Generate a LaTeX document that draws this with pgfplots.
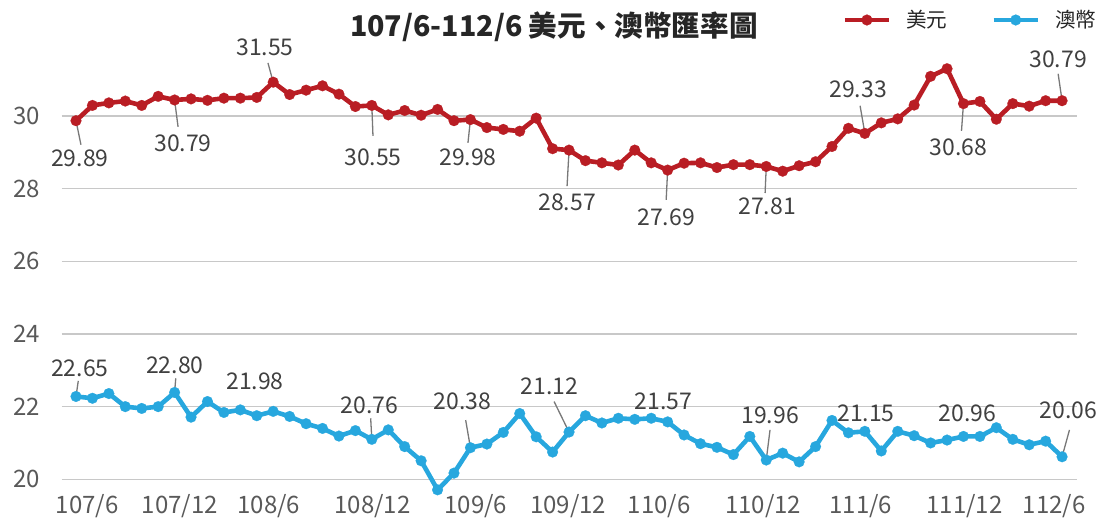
\documentclass[border=0pt]{standalone}
\usepackage{fontspec}
\setmainfont{Noto Sans CJK TC}
\usepackage{pgfplots}
\usepackage{pgfplotstable}
\pgfplotsset{compat=1.18}
\definecolor{usd}{RGB}{185,29,36}
\definecolor{aud}{RGB}{39,167,222}
\definecolor{gridc}{RGB}{200,200,200}
\definecolor{lbl}{RGB}{64,64,64}
\definecolor{tck}{RGB}{89,89,89}
\definecolor{lead}{RGB}{120,120,120}
\newcommand{\lf}{\fontsize{11.5}{13}\selectfont}

\pgfplotstableread{
x usd aud
0 29.87 22.28
1 30.29 22.23
2 30.36 22.36
3 30.41 22.00
4 30.29 21.95
5 30.54 22.00
6 30.44 22.39
7 30.47 21.71
8 30.43 22.14
9 30.49 21.84
10 30.49 21.91
11 30.51 21.75
12 30.93 21.87
13 30.59 21.73
14 30.71 21.53
15 30.83 21.40
16 30.60 21.19
17 30.26 21.34
18 30.29 21.10
19 30.03 21.36
20 30.15 20.90
21 30.02 20.51
22 30.18 19.71
23 29.87 20.17
24 29.90 20.87
25 29.68 20.97
26 29.63 21.29
27 29.58 21.81
28 29.94 21.17
29 29.10 20.75
30 29.06 21.30
31 28.77 21.75
32 28.71 21.55
33 28.65 21.68
34 29.06 21.65
35 28.71 21.68
36 28.51 21.58
37 28.70 21.22
38 28.71 20.98
39 28.58 20.88
40 28.66 20.68
41 28.66 21.18
42 28.61 20.53
43 28.48 20.72
44 28.63 20.48
45 28.74 20.90
46 29.16 21.62
47 29.66 21.28
48 29.52 21.32
49 29.81 20.78
50 29.92 21.32
51 30.30 21.20
52 31.09 21.00
53 31.30 21.08
54 30.34 21.18
55 30.40 21.18
56 29.91 21.42
57 30.34 21.10
58 30.27 20.95
59 30.42 21.05
60 30.42 20.62
}\data

\begin{document}
\begin{tikzpicture}
\path[use as bounding box] (-30.85pt,-19.85pt) rectangle (523.65pt,239.65pt);
\begin{axis}[
  at={(0pt,0pt)}, anchor=south west,
  scale only axis, width=507.5pt, height=218pt,
  xmin=-0.87, xmax=60.89, ymin=20, ymax=32,
  clip=false,
  axis line style={draw=none},
  tick style={draw=none},
  major tick length=0pt,
  ymajorgrids, grid style={gridc, line width=0.7pt},
  ytick={20,22,24,26,28,30},
  xtick={0.69,6.31,11.74,18.04,24.33,29.94,35.48,41.81,47.76,54.07,59.51},
  xticklabels={107/6,107/12,108/6,108/12,109/6,109/12,110/6,110/12,111/6,111/12,112/6},
  /pgf/number format/assume math mode=true,
  yticklabel style={anchor=east, inner sep=0pt, xshift=-10.8pt, text=tck, font=\fontsize{12}{14}\selectfont},
  xticklabel style={anchor=north, inner sep=0pt, yshift=-7.5pt, text=tck, font=\fontsize{12}{14}\selectfont},
  legend columns=2,
  legend style={at={(0.769,1.0534)}, anchor=west, draw=none, fill=none, inner sep=0pt,
    nodes={inner sep=0pt, font=\fontsize{10.3}{12}\selectfont, text=black!85},
    /tikz/every odd column/.append style={column sep=7.5pt},
    /tikz/every even column/.append style={column sep=22pt}},
  legend image code/.code={\draw[mark repeat=2,mark phase=2,#1] plot coordinates {(0pt,0pt) (11pt,0pt) (22pt,0pt)};},
]
\addplot[usd, line width=2.3pt, line join=round, mark=*, mark size=2.7pt, mark options={solid, fill=usd, draw=usd, line width=0.1pt}] table[x=x,y=usd]{\data};
\addlegendentry{美元}
\addplot[aud, line width=2.3pt, line join=round, mark=*, mark size=2.7pt, mark options={solid, fill=aud, draw=aud, line width=0.1pt}] table[x=x,y=aud]{\data};
\addlegendentry{澳幣}

% title
\node[font=\bfseries\fontsize{14.3}{17}\selectfont, text=black!85] at (rel axis cs:0.485,1.0374) {107/6-112/6 美元、澳幣匯率圖};

% USD annotations
\draw[lead, line width=0.65pt] (axis cs:0,29.87) -- (axis cs:0.30,29.21);
\node[lbl, font=\lf] at (axis cs:0.24,28.84) {29.89};
\draw[lead, line width=0.65pt] (axis cs:6,30.44) -- (axis cs:6.21,29.70);
\node[lbl, font=\lf] at (axis cs:6.51,29.26) {30.79};
\draw[lead, line width=0.65pt] (axis cs:12,30.93) -- (axis cs:11.68,31.46);
\node[lbl, font=\lf] at (axis cs:11.50,31.90) {31.55};
\draw[lead, line width=0.65pt] (axis cs:18,30.29) -- (axis cs:18.07,29.45);
\node[lbl, font=\lf] at (axis cs:18.07,28.87) {30.55};
\draw[lead, line width=0.65pt] (axis cs:24,29.90) -- (axis cs:23.85,29.26);
\node[lbl, font=\lf] at (axis cs:23.85,28.87) {29.98};
\draw[lead, line width=0.65pt] (axis cs:30,29.06) -- (axis cs:29.88,28.07);
\node[lbl, font=\lf] at (axis cs:29.88,27.61) {28.57};
\draw[lead, line width=0.65pt] (axis cs:36,28.51) -- (axis cs:35.91,27.69);
\node[lbl, font=\lf] at (axis cs:35.91,27.22) {27.69};
\draw[lead, line width=0.65pt] (axis cs:42,28.61) -- (axis cs:41.93,27.88);
\node[lbl, font=\lf] at (axis cs:42.05,27.50) {27.81};
\draw[lead, line width=0.65pt] (axis cs:48,29.52) -- (axis cs:47.71,30.28);
\node[lbl, font=\lf] at (axis cs:47.59,30.74) {29.33};
\draw[lead, line width=0.65pt] (axis cs:54,30.34) -- (axis cs:53.88,29.59);
\node[lbl, font=\lf] at (axis cs:53.70,29.15) {30.68};
\draw[lead, line width=0.65pt] (axis cs:60,30.42) -- (axis cs:59.76,31.16);
\node[lbl, font=\lf] at (axis cs:59.76,31.57) {30.79};

% AUD annotations
\draw[lead, line width=0.65pt] (axis cs:0,22.28) -- (axis cs:0.14,22.71);
\node[lbl, font=\lf] at (axis cs:0.24,23.06) {22.65};
\draw[lead, line width=0.65pt] (axis cs:6,22.39) -- (axis cs:6.07,22.78);
\node[lbl, font=\lf] at (axis cs:6.02,23.15) {22.80};
\node[lbl, font=\lf] at (axis cs:10.89,22.69) {21.98};
\draw[lead, line width=0.65pt] (axis cs:18,21.10) -- (axis cs:17.93,21.68);
\node[lbl, font=\lf] at (axis cs:17.85,22.05) {20.76};
\draw[lead, line width=0.65pt] (axis cs:24,20.87) -- (axis cs:23.71,21.63);
\node[lbl, font=\lf] at (axis cs:23.52,22.14) {20.38};
\draw[lead, line width=0.65pt] (axis cs:30,21.30) -- (axis cs:29.09,22.14);
\node[lbl, font=\lf] at (axis cs:28.81,22.57) {21.12};
\node[lbl, font=\lf] at (axis cs:35.74,22.14) {21.57};
\draw[lead, line width=0.65pt] (axis cs:42,20.53) -- (axis cs:42.23,21.36);
\node[lbl, font=\lf] at (axis cs:42.23,21.77) {19.96};
\node[lbl, font=\lf] at (axis cs:48.07,21.83) {21.15};
\node[lbl, font=\lf] at (axis cs:54.24,21.82) {20.96};
\draw[lead, line width=0.65pt] (axis cs:60,20.62) -- (axis cs:60.45,21.36);
\node[lbl, font=\lf] at (axis cs:60.38,21.91) {20.06};
\end{axis}
\end{tikzpicture}
\end{document}
